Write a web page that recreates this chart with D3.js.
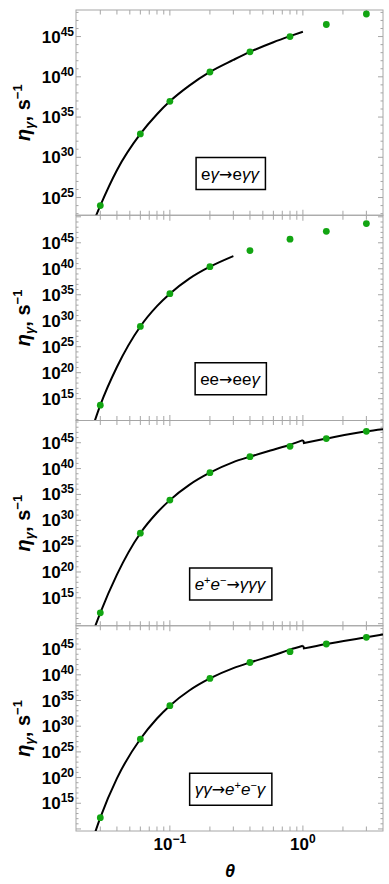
<!DOCTYPE html>
<html lang="en">
<head>
<meta charset="UTF-8">
<title>Photon emission rate vs temperature</title>
<script src="https://d3js.org/d3.v7.min.js"></script>
<style>
  body { margin: 0; background: #fff; }
  svg { display: block; font-family: "Liberation Sans", Arial, sans-serif; }
</style>
</head>
<body>
<svg id="chart" width="389" height="884"></svg>
<script>
// theta of the green points (same for all four processes)
const theta = [0.03, 0.06, 0.1, 0.2, 0.4, 0.8, 1.5, 3];

// log10(eta_gamma) of the points
const ptsEG   = [24.0, 32.9, 36.95, 40.6, 43.1, 45.0, 46.5, 47.8];
const ptsEE   = [13.75, 28.9, 35.2, 40.4, 43.5, 45.7, 47.2, 48.7];
const ptsPair = [12.1, 27.5, 33.9, 39.2, 42.3, 44.3, 45.8, 47.2];
const ptsGG   = [12.2, 27.5, 34.0, 39.3, 42.4, 44.5, 46.0, 47.3];

// black curves, [theta, log10(eta)]
const curveEG = [[0.027, 22.2], [0.03, 24.0], [0.04, 28.4], [0.06, 32.9], [0.08, 35.35], [0.1, 36.95],
  [0.14, 38.9], [0.2, 40.6], [0.3, 42.1], [0.4, 43.1], [0.6, 44.3], [0.8, 45.05], [1.0, 45.6]];
const curveEE = [[0.027, 10.4], [0.03, 13.75], [0.04, 21.1], [0.06, 28.9], [0.08, 32.8], [0.1, 35.2],
  [0.14, 38.1], [0.2, 40.4], [0.3, 42.45]];
const curvePairLo = [[0.027, 9.0], [0.03, 12.1], [0.04, 19.5], [0.06, 27.5], [0.08, 31.45], [0.1, 33.9],
  [0.14, 36.85], [0.2, 39.2], [0.3, 41.25], [0.4, 42.3], [0.6, 43.65], [0.8, 44.6], [1.0, 45.5]];
const curvePairHi = [[1.0, 44.9], [1.5, 45.8], [3, 47.2], [4, 47.6]];
const curveGGLo = [[0.027, 8.8], [0.03, 12.2], [0.04, 19.85], [0.06, 27.5], [0.08, 31.5], [0.1, 34.0],
  [0.14, 36.95], [0.2, 39.3], [0.3, 41.3], [0.4, 42.4], [0.6, 43.8], [0.8, 44.9], [1.0, 45.65]];
const curveGGHi = [[1.0, 45.1], [1.5, 46.0], [3, 47.3], [4, 47.85]];

// y ranges (log10) and labelled decades per panel
const yRangeEG = [22.8, 48.3];
const yRangeEE = [10.8, 50.3];
const yRangePair = [9.6, 49.3];
const yRangeGG = [9.6, 49.55];
const yLabelsEG = [25, 30, 35, 40, 45];
const yLabelsWide = [15, 20, 25, 30, 35, 40, 45];

// x axis
const xDomain = [0.0197, 4];
const xTicks = [0.03, 0.04, 0.05, 0.06, 0.07, 0.08, 0.09, 0.1, 0.2, 0.3, 0.4, 0.5, 0.6, 0.7, 0.8, 0.9, 1, 2, 3];
const xLabels = [{v: 0.1, exp: "\u22121"}, {v: 1, exp: "0"}];

// process labels: [text, italic?, superscript?]
const labelEG = [["e", 0], ["\u03b3", 1], ["\u2192", 0], ["e", 0], ["\u03b3\u03b3", 1]];
const labelEE = [["ee", 0], ["\u2192", 0], ["ee", 0], ["\u03b3", 1]];
const labelPair = [["e", 1], ["+", 0, 1], ["e", 1], ["\u2212", 0, 1], ["\u2192", 0], ["\u03b3\u03b3\u03b3", 1]];
const labelGG = [["\u03b3\u03b3", 1], ["\u2192", 0], ["e", 1], ["+", 0, 1], ["e", 1], ["\u2212", 0, 1], ["\u03b3", 1]];

const panels = [
  {pts: ptsEG, curves: [curveEG], yRange: yRangeEG, yLabels: yLabelsEG, label: labelEG},
  {pts: ptsEE, curves: [curveEE], yRange: yRangeEE, yLabels: yLabelsWide, label: labelEE},
  {pts: ptsPair, curves: [curvePairLo, curvePairHi], yRange: yRangePair, yLabels: yLabelsWide, label: labelPair},
  {pts: ptsGG, curves: [curveGGLo, curveGGHi], yRange: yRangeGG, yLabels: yLabelsWide, label: labelGG}
];

const plotLeft = 76, plotRight = 383, plotTop = 10, plotBottom = 831;
const panelH = (plotBottom - plotTop) / panels.length;
const frameColor = "#a6a6a6";
const green = "#12a512";

const svg = d3.select("#chart");

const x = d3.scaleLog().domain(xDomain).range([plotLeft, plotRight]);

panels.forEach((p, i) => {
  const y0 = plotTop + i * panelH, y1 = y0 + panelH;
  const y = d3.scaleLog()
    .domain([Math.pow(10, p.yRange[0]), Math.pow(10, p.yRange[1])])
    .range([y1, y0]);
  const yv = v => y(Math.pow(10, v));

  const g = svg.append("g");

  g.append("clipPath").attr("id", "clip" + i)
    .append("rect").attr("x", plotLeft).attr("y", y0).attr("width", plotRight - plotLeft).attr("height", panelH);

  // frame
  g.append("rect")
    .attr("x", plotLeft).attr("y", y0)
    .attr("width", plotRight - plotLeft).attr("height", panelH)
    .attr("fill", "none").attr("stroke", frameColor).attr("stroke-width", 1);

  // x ticks, top and bottom, pointing inward
  xTicks.forEach(t => {
    const len = (t === 0.1 || t === 1) ? 5.5 : 4.5;
    g.append("line").attr("x1", x(t)).attr("x2", x(t)).attr("y1", y0).attr("y2", y0 + len)
      .attr("stroke", frameColor);
    g.append("line").attr("x1", x(t)).attr("x2", x(t)).attr("y1", y1).attr("y2", y1 - len)
      .attr("stroke", frameColor);
  });

  // y ticks, every decade, longer every fifth
  for (let e = Math.ceil(p.yRange[0]); e <= Math.floor(p.yRange[1]); e++) {
    const len = e % 5 === 0 ? 5 : 2.5;
    const yy = yv(e);
    g.append("line").attr("x1", plotLeft).attr("x2", plotLeft + len).attr("y1", yy).attr("y2", yy)
      .attr("stroke", frameColor);
    g.append("line").attr("x1", plotRight).attr("x2", plotRight - len).attr("y1", yy).attr("y2", yy)
      .attr("stroke", frameColor);
  }

  // y tick labels
  p.yLabels.forEach(e => {
    const t = g.append("text")
      .attr("x", plotLeft - 2).attr("y", yv(e) + 6)
      .attr("text-anchor", "end")
      .attr("font-weight", "bold").attr("font-size", 17);
    t.append("tspan").text("10");
    t.append("tspan").attr("dy", -7).attr("font-size", 12).text(e);
  });

  // y axis title
  const title = g.append("text")
    .attr("transform", `translate(30,${(y0 + y1) / 2}) rotate(-90)`)
    .attr("text-anchor", "middle")
    .attr("font-weight", "bold").attr("font-size", 20);
  title.append("tspan").attr("font-style", "italic").text("\u03b7");
  title.append("tspan").attr("font-style", "italic").attr("font-size", 13).attr("dy", 4).text("\u03b3");
  title.append("tspan").attr("dy", -4).text(", s");
  title.append("tspan").attr("font-size", 13).attr("dy", -8).text("\u22121");

  // curves
  const line = d3.line()
    .x(d => x(d[0]))
    .y(d => yv(d[1]))
    .curve(d3.curveMonotoneX);

  p.curves.forEach(c => {
    g.append("path")
      .datum(c)
      .attr("d", line)
      .attr("clip-path", `url(#clip${i})`)
      .attr("fill", "none")
      .attr("stroke", "#000")
      .attr("stroke-width", 2);
  });

  // jump between two curve pieces at the same theta
  if (p.curves.length > 1) {
    const a = p.curves[0][p.curves[0].length - 1];
    const b = p.curves[1][0];
    g.append("line")
      .attr("x1", x(a[0])).attr("y1", yv(a[1]))
      .attr("x2", x(b[0]) + 1.5).attr("y2", yv(b[1]))
      .attr("stroke", "#000").attr("stroke-width", 2);
  }

  // points
  g.selectAll("circle.pt")
    .data(p.pts.map((v, k) => [theta[k], v]))
    .enter()
    .append("circle")
    .attr("class", "pt")
    .attr("cx", d => x(d[0]))
    .attr("cy", d => yv(d[1]))
    .attr("r", 3.4)
    .attr("fill", green);

  // process label in a box
  const cx = 230, cy = y0 + 163.5;
  const box = g.append("rect").attr("fill", "#fff").attr("stroke", "#000").attr("stroke-width", 1.5);
  const lab = g.append("text")
    .attr("x", cx).attr("y", cy + 6)
    .attr("text-anchor", "middle")
    .attr("font-size", 17);
  p.label.forEach(part => {
    const ts = lab.append("tspan").text(part[0]);
    if (part[0] === "\u2192") ts.attr("font-family", "DejaVu Sans").attr("font-size", 16);
    if (part[1]) ts.attr("font-style", "italic");
    if (part[2]) ts.attr("font-size", 11).attr("baseline-shift", "super");
  });
  const bb = lab.node().getBBox();
  box.attr("x", bb.x - 5).attr("y", cy - 16)
    .attr("width", bb.width + 10).attr("height", 32);
});

// bottom axis labels
xLabels.forEach(d => {
  const t = svg.append("text")
    .attr("x", x(d.v)).attr("y", plotBottom + 19)
    .attr("text-anchor", "middle")
    .attr("font-weight", "bold").attr("font-size", 17);
  t.append("tspan").text("10");
  t.append("tspan").attr("dy", -7).attr("font-size", 12).text(d.exp);
});

svg.append("text")
  .attr("x", 230).attr("y", plotBottom + 46)
  .attr("text-anchor", "middle")
  .attr("font-weight", "bold").attr("font-style", "italic").attr("font-size", 18)
  .text("\u03b8");
</script>
</body>
</html>
